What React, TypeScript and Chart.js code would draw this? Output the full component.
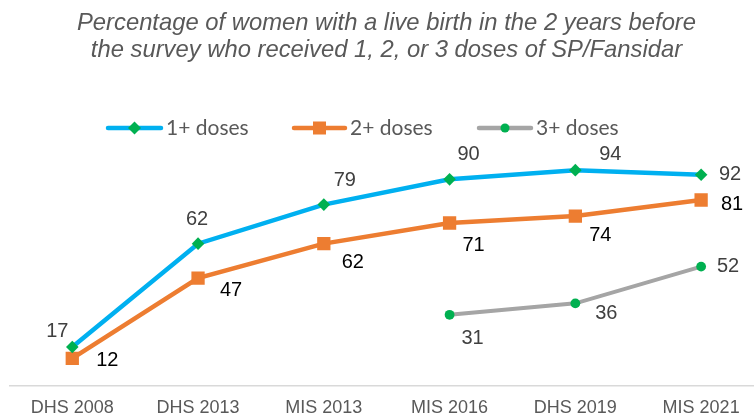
import React, { useEffect, useRef } from "react";
import { Chart, registerables } from "chart.js";

Chart.register(...registerables);

// ---- data ----
const categories = ["DHS 2008", "DHS 2013", "MIS 2013", "MIS 2016", "DHS 2019", "MIS 2021"];
const dose1Values = [17, 62, 79, 90, 94, 92];
const dose2Values = [12, 47, 62, 71, 74, 81];
const dose3Values: (number | null)[] = [null, null, null, 31, 36, 52];
const seriesNames = ["1+ doses", "2+ doses", "3+ doses"];
const titleLines = [
  "Percentage of women with a live birth in the 2 years before",
  "the survey who received 1, 2, or 3 doses of SP/Fansidar",
];

// ---- styling ----
const BLUE = "#00B0F0";
const ORANGE = "#ED7D31";
const GRAY = "#A5A5A5";
const GREEN = "#00B050";

// data label offsets (dx, dy) relative to each point
const labelOffsets: number[][][] = [
  [[-15, -15], [-1, -24], [21, -24], [19, -25], [35, -16], [29, 0]],
  [[35, 2], [33, 12], [29, 19], [24, 23], [25, 19], [31, 4]],
  [[0, 0], [0, 0], [0, 0], [23, 24], [31, 10], [27, 0]],
];
const labelColors = ["#404040", "#000000", "#404040"];

const legendItems = [
  { x0: 106, x1: 163, color: BLUE, marker: "diamond" },
  { x0: 292, x1: 347, color: ORANGE, marker: "square" },
  { x0: 477, x1: 533, color: GRAY, marker: "circle" },
];

const dataLabelPlugin = {
  id: "dataLabels",
  afterDatasetsDraw(chart: any) {
    const ctx = chart.ctx;
    ctx.save();
    ctx.font = "20px 'Liberation Sans', Arial, sans-serif";
    ctx.textAlign = "center";
    ctx.textBaseline = "middle";
    chart.data.datasets.forEach((ds: any, i: number) => {
      const meta = chart.getDatasetMeta(i);
      meta.data.forEach((pt: any, j: number) => {
        const v = ds.data[j];
        if (v === null || v === undefined) return;
        const [dx, dy] = labelOffsets[i][j];
        ctx.fillStyle = labelColors[i];
        ctx.fillText(String(v), pt.x + dx, pt.y + dy);
      });
    });
    ctx.restore();
  },
};

const legendPlugin = {
  id: "customLegend",
  afterDraw(chart: any) {
    const ctx = chart.ctx;
    const y = 128;
    ctx.save();
    legendItems.forEach((it, i) => {
      ctx.strokeStyle = it.color;
      ctx.lineWidth = 4.5;
      ctx.lineCap = "round";
      ctx.beginPath();
      ctx.moveTo(it.x0 + 2, y);
      ctx.lineTo(it.x1 - 2, y);
      ctx.stroke();
      const cx = (it.x0 + it.x1) / 2;
      if (it.marker === "diamond") {
        ctx.fillStyle = GREEN;
        ctx.beginPath();
        ctx.moveTo(cx, y - 6.5);
        ctx.lineTo(cx + 6.5, y);
        ctx.lineTo(cx, y + 6.5);
        ctx.lineTo(cx - 6.5, y);
        ctx.closePath();
        ctx.fill();
      } else if (it.marker === "square") {
        ctx.fillStyle = ORANGE;
        ctx.fillRect(cx - 6.5, y - 6.5, 13, 13);
      } else {
        ctx.fillStyle = GREEN;
        ctx.beginPath();
        ctx.arc(cx, y, 4.5, 0, Math.PI * 2);
        ctx.fill();
      }
      ctx.fillStyle = "#595959";
      ctx.font = "21px Lato, 'Open Sans', sans-serif";
      ctx.textAlign = "left";
      ctx.textBaseline = "middle";
      ctx.fillText(seriesNames[i], it.x1 + 3, y);
    });
    ctx.restore();
  },
};

export default function App() {
  const canvasRef = useRef<HTMLCanvasElement | null>(null);

  useEffect(() => {
    if (!canvasRef.current) return;
    const chart = new Chart(canvasRef.current, {
      type: "line",
      data: {
        labels: categories,
        datasets: [
          {
            label: seriesNames[0],
            data: dose1Values,
            borderColor: BLUE,
            borderWidth: 4.5,
            pointStyle: "rectRot",
            pointRadius: 6.3,
            pointBackgroundColor: GREEN,
            pointBorderColor: GREEN,
            pointBorderWidth: 0,
            tension: 0,
          },
          {
            label: seriesNames[1],
            data: dose2Values,
            borderColor: ORANGE,
            borderWidth: 4.5,
            pointStyle: "rect",
            pointRadius: 9.4,
            pointBackgroundColor: ORANGE,
            pointBorderColor: ORANGE,
            pointBorderWidth: 0,
            tension: 0,
          },
          {
            label: seriesNames[2],
            data: dose3Values,
            borderColor: GRAY,
            borderWidth: 4,
            pointStyle: "circle",
            pointRadius: 4.9,
            pointBackgroundColor: GREEN,
            pointBorderColor: GREEN,
            pointBorderWidth: 0,
            tension: 0,
          },
        ],
      },
      options: {
        responsive: false,
        animation: false,
        devicePixelRatio: 1,
        layout: { padding: { left: 9, right: 11, top: 0, bottom: 0 } },
        plugins: {
          legend: { display: false },
          tooltip: { enabled: false },
          title: {
            display: true,
            text: titleLines,
            color: "#595959",
            font: { family: "'Liberation Sans', Arial, sans-serif", size: 23.8, style: "italic", weight: "normal", lineHeight: 1.147 },
            padding: { top: 9.4, bottom: 92.4 },
          },
        },
        scales: {
          x: {
            type: "category",
            offset: true,
            grid: { display: false, drawTicks: false },
            border: { display: true, color: "#D9D9D9", width: 1.5 },
            ticks: {
              color: "#595959",
              padding: 11,
              font: { family: "'Liberation Sans', Arial, sans-serif", size: 18 },
              maxRotation: 0,
              autoSkip: false,
            },
            afterFit: (scale: any) => {
              scale.height = 33;
            },
          },
          y: {
            display: false,
            min: 0,
            max: 100,
          },
        },
      },
      plugins: [dataLabelPlugin, legendPlugin],
    });
    return () => chart.destroy();
  }, []);

  return (
    <div
      style={{
        position: "fixed",
        left: 0,
        top: 0,
        width: 754,
        height: 419,
        overflow: "hidden",
        background: "#fff",
      }}
    >
      <canvas ref={canvasRef} width={775} height={419} style={{ display: "block" }} />
    </div>
  );
}
